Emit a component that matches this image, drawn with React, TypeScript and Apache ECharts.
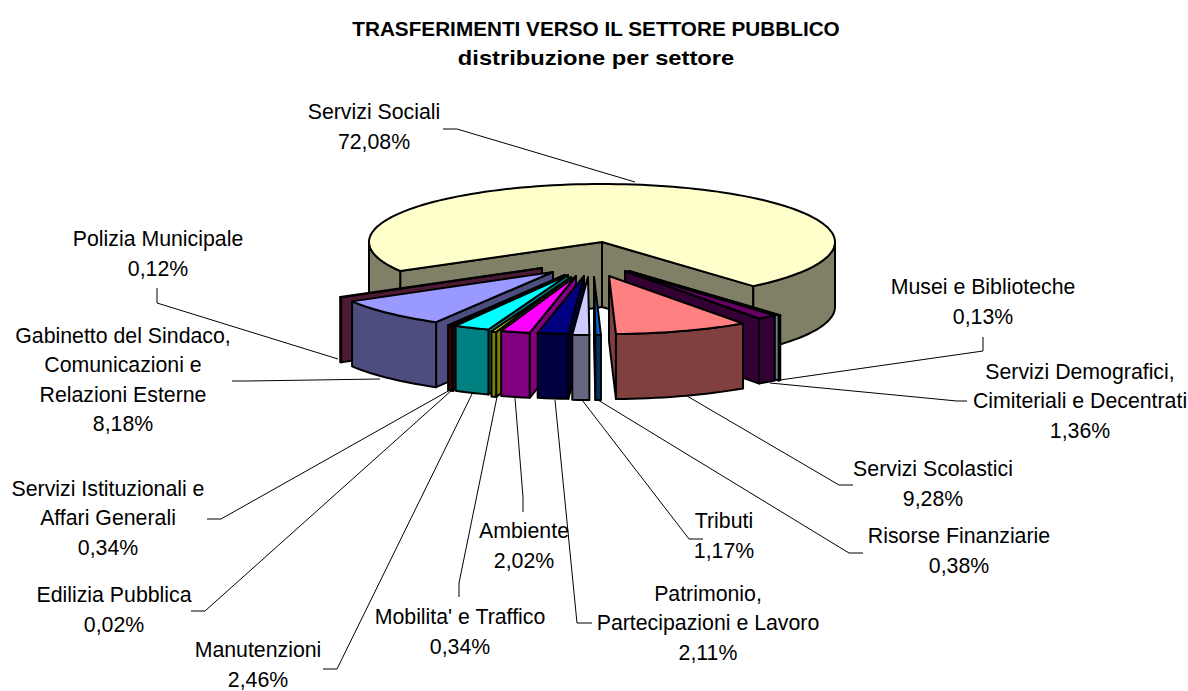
import React, { useEffect, useRef } from "react";
import * as echarts from "echarts";

const titleLines = ["TRASFERIMENTI VERSO IL SETTORE PUBBLICO", "distribuzione per settore"];

// Clockwise around the pie, beginning with the large slice.
const categories = [
  "Servizi Sociali",
  "Musei e Biblioteche",
  "Servizi Demografici,\nCimiteriali e Decentrati",
  "Servizi Scolastici",
  "Risorse Finanziarie",
  "Tributi",
  "Patrimonio,\nPartecipazioni e Lavoro",
  "Ambiente",
  "Mobilita' e Traffico",
  "Manutenzioni",
  "Edilizia Pubblica",
  "Servizi Istituzionali e\nAffari Generali",
  "Gabinetto del Sindaco,\nComunicazioni e\nRelazioni Esterne",
  "Polizia Municipale",
];
const values = [72.08, 0.13, 1.36, 9.28, 0.38, 1.17, 2.11, 2.02, 0.34, 2.46, 0.02, 0.34, 8.18, 0.12];
const topColors = ["#FFFFCC", "#CCFFFF", "#660066", "#FF8080", "#0066CC", "#CCCCFF", "#000080", "#FF00FF", "#FFFF00", "#00FFFF", "#800080", "#800000", "#9999FF", "#993366"];
const wallColors = ["#808066", "#668080", "#330033", "#804040", "#003366", "#666680", "#000040", "#800080", "#808000", "#008080", "#400040", "#400000", "#4D4D80", "#4D1A33"];

// Layout tables (not data)
const explodeX = [0, 27, 23, 7, -8, -14, -18, -26, -31, -34, -37, -37, -49, -60];
const explodeY = [0, 29, 29, 34, 35, 35, 34, 34, 35, 33, 33, 33, 30, 26];
const drawOrder = [0, 13, 1, 2, 3, 12, 11, 10, 9, 8, 7, 6, 5, 4];
const labelX = [374, 983, 1080, 933, 959, 724, 708, 524, 460, 258, 114, 108, 123, 158];
const labelY = [127, 302, 401, 484, 551, 536, 623, 546, 632, 665, 610, 518, 380, 254];
const leaders: number[][][] = [
  [[443, 129], [457, 129], [635, 182]],
  [[983, 337], [983, 351], [780, 380]],
  [[967, 401], [957, 401], [770, 383]],
  [[853, 485], [839, 485], [687, 396]],
  [[863, 553], [849, 553], [598, 400]],
  [[703, 539], [689, 539], [582, 400]],
  [[592, 623], [577, 623], [555, 400]],
  [[523, 512], [523, 497], [515, 398]],
  [[459, 597], [459, 583], [497, 397]],
  [[323, 669], [337, 669], [473, 392]],
  [[191, 611], [205, 611], [452, 390]],
  [[207, 519], [221, 519], [450, 390]],
  [[232, 381], [248, 381], [380, 379]],
  [[157, 288], [157, 303], [338, 359]],
];

const CX = 602;
const CY = 242;
const RX = 233;
const RY = 58;
const DEPTH = 65;
const START_ANGLE = 150;
const LINE_STEP = 29.5;
const FONT = "'Liberation Sans', Arial, sans-serif";

const total = values.reduce((a, b) => a + b, 0);
const startAngles: number[] = [];
values.reduce((acc, v) => {
  startAngles.push(acc);
  return acc + (v / total) * 360;
}, START_ANGLE);

const rad = (d: number) => (d * Math.PI) / 180;

function arcPoints(cx: number, cy: number, a1: number, a2: number): number[][] {
  const n = Math.max(1, Math.ceil((a2 - a1) / 2));
  const pts: number[][] = [];
  for (let i = 0; i <= n; i++) {
    const a = rad(a1 + ((a2 - a1) * i) / n);
    pts.push([cx + RX * Math.cos(a), cy + RY * Math.sin(a)]);
  }
  return pts;
}

const facet = (points: number[][], fill: string) => ({
  type: "polygon",
  shape: { points },
  style: { fill, stroke: "#000", lineWidth: 2, lineJoin: "round" },
});

function renderSlice(_params: any, api: any) {
  const i = api.value(0) as number;
  const sweep = ((api.value(1) as number) / total) * 360;
  const a1 = startAngles[i];
  const a2 = a1 + sweep;
  const cx = CX + explodeX[i];
  const cy = CY + explodeY[i];
  const children: any[] = [];
  const rim = (a: number) => [cx + RX * Math.cos(rad(a)), cy + RY * Math.sin(rad(a))];
  const down = (p: number[]) => [p[0], p[1] + DEPTH];
  const cutWall = (a: number) => {
    const p = rim(a);
    return facet([[cx, cy], p, down(p), [cx, cy + DEPTH]], wallColors[i]);
  };
  // Cut faces turned to the viewer
  if (Math.cos(rad(a1)) < 0) children.push(cutWall(a1));
  if (Math.cos(rad(a2)) > 0) children.push(cutWall(a2));
  // Outer wall: the parts of the rim on the near side of the ellipse
  for (let k = 0; k <= 1; k++) {
    const lo = Math.max(a1, 360 * k);
    const hi = Math.min(a2, 360 * k + 180);
    if (hi > lo) {
      const top = arcPoints(cx, cy, lo, hi);
      children.push(facet([...top, ...top.slice().reverse().map(down)], wallColors[i]));
    }
  }
  children.push(facet([[cx, cy], ...arcPoints(cx, cy, a1, a2)], topColors[i]));
  return { type: "group", children };
}

function renderLabel(_params: any, api: any) {
  const i = api.value(0) as number;
  const pct = (api.value(1) as number).toFixed(2).replace(".", ",") + "%";
  const lines = [...categories[i].split("\n"), pct];
  const firstY = labelY[i] - ((lines.length - 1) * LINE_STEP) / 2;
  return {
    type: "group",
    children: [
      {
        type: "polyline",
        shape: { points: leaders[i] },
        style: { fill: "none", stroke: "#000", lineWidth: 1 },
      },
      ...lines.map((line, k) => ({
        type: "text",
        style: {
          x: labelX[i],
          y: firstY + k * LINE_STEP,
          text: line,
          fontFamily: FONT,
          fontSize: 21.3,
          fill: "#000",
          align: "center",
          verticalAlign: "middle",
        },
      })),
    ],
  };
}

export default function App() {
  const ref = useRef<HTMLDivElement>(null);
  useEffect(() => {
    const chart = echarts.init(ref.current!, null, { renderer: "svg" });
    chart.setOption({
      animation: false,
      backgroundColor: "#fff",
      graphic: [
        {
          type: "text",
          x: 596,
          y: 29,
          scaleX: 1.037,
          style: { text: titleLines[0], fontFamily: FONT, fontWeight: "bold", fontSize: 20, fill: "#000", align: "center", verticalAlign: "middle" },
        },
        {
          type: "text",
          x: 596,
          y: 58,
          scaleX: 1.185,
          style: { text: titleLines[1], fontFamily: FONT, fontWeight: "bold", fontSize: 20, fill: "#000", align: "center", verticalAlign: "middle" },
        },
      ],
      series: [
        {
          type: "custom",
          coordinateSystem: "none",
          silent: true,
          renderItem: renderSlice,
          data: drawOrder.map((i) => [i, values[i]]),
          z: 2,
        },
        {
          type: "custom",
          coordinateSystem: "none",
          silent: true,
          renderItem: renderLabel,
          data: values.map((v, i) => [i, v]),
          z: 3,
        },
      ],
    });
    return () => chart.dispose();
  }, []);
  return <div ref={ref} style={{ position: "fixed", left: 0, top: 0, width: 1188, height: 691 }} />;
}
